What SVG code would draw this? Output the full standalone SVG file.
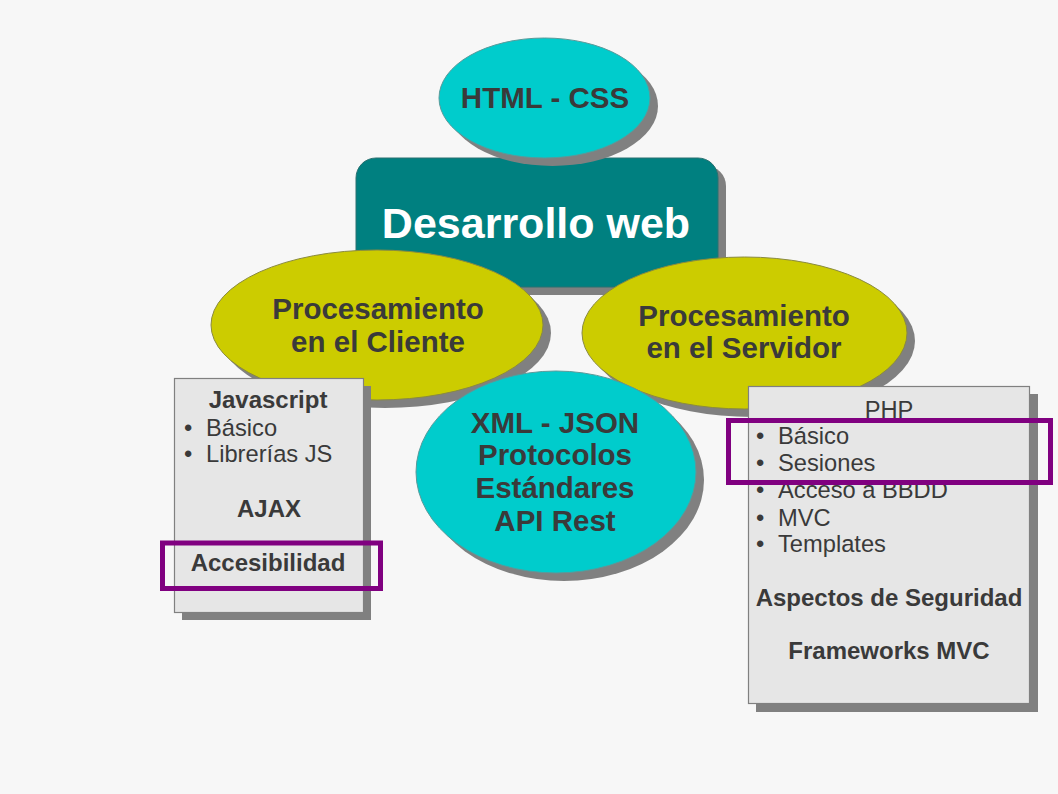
<svg xmlns="http://www.w3.org/2000/svg" width="1058" height="794" viewBox="0 0 1058 794">
<style>
.shadow{fill:#808080;stroke:none}
.cyan{fill:#00cccc;stroke:#5a9a9a;stroke-width:1}
.yellow{fill:#cccc00;stroke:#8a8a40;stroke-width:1}
.box{fill:#e6e6e6;stroke:#808080;stroke-width:1.2}
.t{font-family:"Liberation Sans",Arial,sans-serif;fill:#3a3a3a}
.eb{font-size:29.5px;font-weight:bold;text-anchor:middle}
.bb{font-size:24px;font-weight:bold;text-anchor:middle}
.br{font-size:23.7px}
.hl{fill:none;stroke:#800080;stroke-width:5}
</style>
<rect width="1058" height="794" fill="#f7f7f7"/>
<g id="desarrollo">
<rect class="shadow" x="364" y="166" width="362" height="129" rx="20"/>
<rect x="356" y="158" width="362" height="129" rx="20" fill="#008080" stroke="#2a7070" stroke-width="1"/>
<text x="536" y="238" font-family="'Liberation Sans',Arial,sans-serif" font-size="43" font-weight="bold" fill="#ffffff" text-anchor="middle">Desarrollo web</text>
</g>
<g id="html-css">
<ellipse class="shadow" cx="552.5" cy="106" rx="105.5" ry="60"/>
<ellipse class="cyan" cx="544.5" cy="98" rx="105.5" ry="60"/>
<text class="t eb" x="545" y="108">HTML - CSS</text>
</g>
<g id="cliente">
<ellipse class="shadow" cx="385" cy="333" rx="166" ry="75"/>
<ellipse class="yellow" cx="377" cy="325" rx="166" ry="75"/>
<text class="t eb" x="378" y="319">Procesamiento</text>
<text class="t eb" x="378" y="352">en el Cliente</text>
</g>
<g id="servidor">
<ellipse class="shadow" cx="752.5" cy="341" rx="162.5" ry="76"/>
<ellipse class="yellow" cx="744.5" cy="333" rx="162.5" ry="76"/>
<text class="t eb" x="744" y="326">Procesamiento</text>
<text class="t eb" x="744" y="358">en el Servidor</text>
</g>
<g id="javascript">
<rect class="shadow" x="182" y="386" width="189" height="234"/>
<rect class="box" x="174.5" y="378.5" width="189" height="234"/>
<text class="t bb" x="268" y="408">Javascript</text>
<text class="t br" x="184" y="436">•</text>
<text class="t br" x="206" y="436">Básico</text>
<text class="t br" x="184" y="462">•</text>
<text class="t br" x="206" y="462">Librerías JS</text>
<text class="t bb" x="269" y="517">AJAX</text>
<text class="t bb" x="268" y="571">Accesibilidad</text>
</g>
<g id="xml-json">
<ellipse class="shadow" cx="564" cy="480" rx="140" ry="101"/>
<ellipse class="cyan" cx="556" cy="472" rx="140" ry="101"/>
<text class="t eb" x="555" y="433">XML - JSON</text>
<text class="t eb" x="555" y="465">Protocolos</text>
<text class="t eb" x="555" y="498">Estándares</text>
<text class="t eb" x="555" y="531">API Rest</text>
</g>
<g id="php">
<rect class="shadow" x="756" y="394" width="282" height="318"/>
<rect class="box" x="748.5" y="386.5" width="281" height="317"/>
<text class="t br" x="889" y="418" text-anchor="middle">PHP</text>
<text class="t br" x="756" y="444">•</text>
<text class="t br" x="778" y="444">Básico</text>
<text class="t br" x="756" y="471">•</text>
<text class="t br" x="778" y="471">Sesiones</text>
<text class="t br" x="756" y="498">•</text>
<text class="t br" x="778" y="498">Acceso a BBDD</text>
<text class="t br" x="756" y="526">•</text>
<text class="t br" x="778" y="526">MVC</text>
<text class="t br" x="756" y="552">•</text>
<text class="t br" x="778" y="552">Templates</text>
<text class="t bb" x="889" y="606">Aspectos de Seguridad</text>
<text class="t bb" x="889" y="659">Frameworks MVC</text>
</g>
<g id="highlights">
<rect class="hl" x="162.5" y="543" width="218" height="45.5"/>
<rect class="hl" x="728.5" y="420.5" width="322" height="62"/>
</g>
</svg>
